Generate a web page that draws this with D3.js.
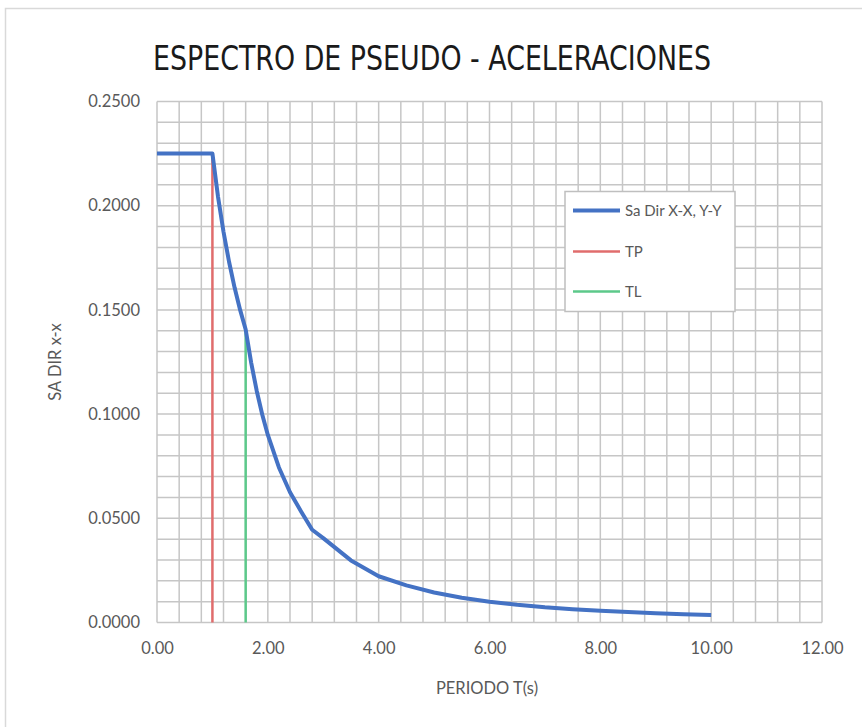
<!DOCTYPE html>
<html><head><meta charset="utf-8">
<script src="https://cdn.jsdelivr.net/npm/d3@7"></script>
<style>body{margin:0;background:#fff;}svg{display:block;}</style>
</head><body>
<svg id="c" width="862" height="727"></svg>
<script>
const periods = [0, 1.0, 1.1, 1.2, 1.3, 1.4, 1.5, 1.6, 1.7, 1.8, 1.9, 2.0, 2.2, 2.4, 2.6, 2.8, 3.0, 3.5, 4.0, 4.5, 5.0, 5.5, 6.0, 6.5, 7.0, 7.5, 8.0, 8.5, 9.0, 9.5, 10.0];
const saValues = [0.225, 0.225, 0.2045, 0.1875, 0.1731, 0.1607, 0.15, 0.1406, 0.1246, 0.1111, 0.0997, 0.09, 0.0744, 0.0625, 0.0533, 0.0445, 0.0405, 0.0298, 0.0222, 0.0178, 0.0144, 0.0119, 0.01, 0.0085, 0.0073, 0.0064, 0.0056, 0.005, 0.0044, 0.004, 0.0036];
const tpLine = {T: 1.0, sa: [0, 0.225]};
const tlLine = {T: 1.6, sa: [0, 0.1406]};
const xTicks = [0, 2, 4, 6, 8, 10, 12];
const yTicks = [0, 0.05, 0.10, 0.15, 0.20, 0.25];
const legendLabels = ["Sa Dir X-X, Y-Y", "TP", "TL"];
const colors = ["#4472C4", "#E06C6C", "#5CC98A"];

const svg = d3.select("#c");
svg.append("path").attr("d","M5.5,727 L5.5,8.5 L862,8.5").attr("fill","none").attr("stroke","#d9d9d9").attr("stroke-width",1.5);

const x = d3.scaleLinear().domain([0,12]).range([157,822]);
const y = d3.scaleLinear().domain([0,0.25]).range([622.5,101.5]);

const g = svg.append("g");
const xg = d3.range(0, 31).map(i => i*0.4);
const yg = d3.range(0, 26).map(i => i*0.01);
g.selectAll("line.v").data(xg).join("line")
  .attr("x1", d=>x(d)).attr("x2", d=>x(d)).attr("y1", y(0)).attr("y2", y(0.25))
  .attr("stroke","#c6c6c6").attr("stroke-width",1.5);
g.selectAll("line.h").data(yg).join("line")
  .attr("x1", x(0)).attr("x2", x(12)).attr("y1", d=>y(d)).attr("y2", d=>y(d))
  .attr("stroke","#c6c6c6").attr("stroke-width",1.5);

const yAxis = svg.append("g").attr("transform",`translate(${x(0)},0)`)
  .call(d3.axisLeft(y).tickValues(yTicks).tickFormat(d3.format(".4f")).tickSize(0).tickPadding(17));
const xAxis = svg.append("g").attr("transform",`translate(0,${y(0)})`)
  .call(d3.axisBottom(x).tickValues(xTicks).tickFormat(d3.format(".2f")).tickSize(0).tickPadding(20));
[yAxis,xAxis].forEach(a=>{
  a.select(".domain").remove();
  a.selectAll("text").attr("font-family","Lato, 'Open Sans', sans-serif").attr("font-size",16.5).attr("fill","#595959");
});

svg.append("line").attr("x1",x(tpLine.T)).attr("x2",x(tpLine.T)).attr("y1",y(tpLine.sa[0])).attr("y2",y(tpLine.sa[1]))
  .attr("stroke",colors[1]).attr("stroke-width",2.5);
svg.append("line").attr("x1",x(tlLine.T)).attr("x2",x(tlLine.T)).attr("y1",y(tlLine.sa[0])).attr("y2",y(tlLine.sa[1]))
  .attr("stroke",colors[2]).attr("stroke-width",2.5);

const line = d3.line().x((d,i)=>x(periods[i])).y(d=>y(d));
svg.append("path").datum(saValues).attr("d",line).attr("fill","none")
  .attr("stroke",colors[0]).attr("stroke-width",4).attr("stroke-linejoin","round");

svg.append("text").attr("x",432).attr("y",70).attr("text-anchor","middle")
  .attr("font-family","'DejaVu Sans Condensed', 'Open Sans', sans-serif").attr("font-size",33)
  .attr("textLength",558).attr("lengthAdjust","spacingAndGlyphs")
  .attr("fill","#1a1a1a").text("ESPECTRO DE PSEUDO - ACELERACIONES");

svg.append("text").attr("transform","translate(61,362) rotate(-90)").attr("text-anchor","middle")
  .attr("font-family","Lato, 'Open Sans', sans-serif").attr("font-size",16.5).attr("fill","#595959").text("SA DIR x-x");
svg.append("text").attr("x",487).attr("y",694).attr("text-anchor","middle")
  .attr("font-family","Lato, 'Open Sans', sans-serif").attr("font-size",16.5).attr("fill","#595959").text("PERIODO T(s)");

const lg = svg.append("g");
lg.append("rect").attr("x",565).attr("y",191.5).attr("width",170).attr("height",120)
  .attr("fill","#fff").attr("stroke","#bfbfbf").attr("stroke-width",1.5);
const ly = [210.5, 251.5, 291.5];
const lw = [4, 2.5, 2.5];
legendLabels.forEach((t,i)=>{
  lg.append("line").attr("x1",573).attr("x2",620).attr("y1",ly[i]).attr("y2",ly[i]).attr("stroke",colors[i]).attr("stroke-width",lw[i]);
  lg.append("text").attr("x",625).attr("y",ly[i]+5.5).attr("font-family","Lato, 'Open Sans', sans-serif")
    .attr("font-size",15).attr("fill","#595959").text(t);
});
</script>
</body></html>
